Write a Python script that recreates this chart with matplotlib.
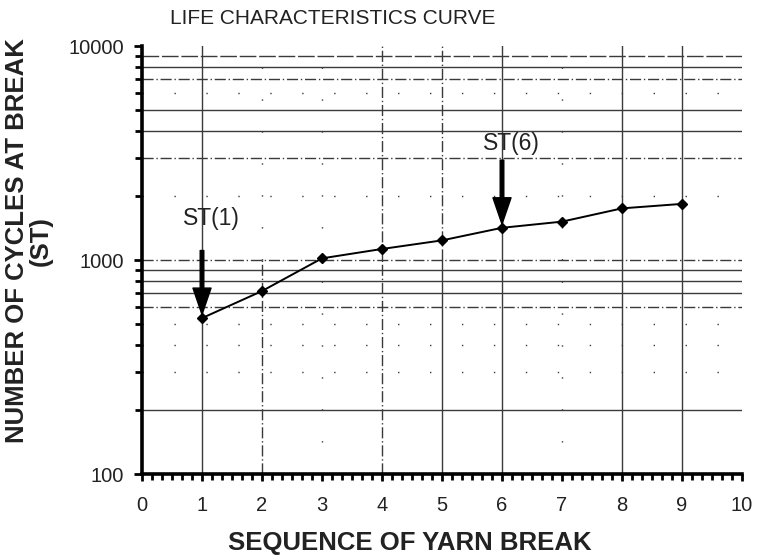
import numpy as np
import matplotlib
matplotlib.use("Agg")
import matplotlib.pyplot as plt
from matplotlib.ticker import FixedLocator, FixedFormatter, MultipleLocator, NullFormatter

plt.rcParams['font.family'] = ['Liberation Sans', 'DejaVu Sans']

# cycles to break for each yarn, in break order
break_seq = [1, 2, 3, 4, 5, 6, 7, 8, 9]
cycles = [535, 716, 1018, 1126, 1235, 1414, 1511, 1743, 1829]

y_ticks = [100, 1000, 10000]
y_tick_labels = ['100', '1000', '10000']
x_ticks = [0, 1, 2, 3, 4, 5, 6, 7, 8, 9, 10]

# marked breaks: (sequence, label)
marked = [(1, 'ST(1)'), (6, 'ST(6)')]

# grid line styles (photocopied chart paper: some lines solid, some broken)
SOLID = '-'
DASHDOT = (0, (8, 2, 1, 2))
DOTS = (0, (1, 22))
LONGDASH = (0, (12, 2))
hgrid = {
    200: SOLID, 300: DOTS, 400: DOTS, 500: DOTS, 600: DASHDOT,
    700: SOLID, 800: SOLID, 900: SOLID, 1000: DASHDOT,
    2000: DOTS, 3000: DASHDOT, 4000: SOLID, 5000: SOLID,
    6000: DOTS, 7000: DASHDOT, 8000: SOLID, 9000: LONGDASH,
}
# vertical lines: style below 1000 cycles, style above
vgrid = {1: (SOLID, SOLID), 2: (DASHDOT, DOTS), 3: (DOTS, DOTS),
         4: (DASHDOT, DASHDOT), 5: (SOLID, DASHDOT), 6: (SOLID, SOLID),
         7: (DOTS, DOTS), 8: (SOLID, SOLID), 9: (SOLID, SOLID)}

fig = plt.figure(figsize=(7.58, 5.58), dpi=100)
ax = fig.add_axes([142 / 758, 84 / 558, 600 / 758, 428 / 558])
ax.set_yscale('log')
ax.set_xlim(0, 10)
ax.set_ylim(100, 10000)

grid_kw = dict(color='#3a3a3a', lw=1.0, zorder=1)
for yv, ls in hgrid.items():
    ax.axhline(yv, ls=ls, **grid_kw)
for xv, (ls_lo, ls_hi) in vgrid.items():
    ax.plot([xv, xv], [100, 1000], ls=ls_lo, **grid_kw)
    ax.plot([xv, xv], [1000, 10000], ls=ls_hi, **grid_kw)

ax.plot(break_seq, cycles, color='black', lw=1.4, marker='D',
        markersize=5, zorder=3)

# label offsets above the arrow tail, in points
label_gap = {'ST(1)': 15, 'ST(6)': 4}
for seq, label in marked:
    val = cycles[break_seq.index(seq)]
    tail = val * 2.07
    ax.annotate('', xy=(seq, val * 1.04), xytext=(seq, tail),
                arrowprops=dict(facecolor='black', edgecolor='black',
                                width=2.6, headwidth=13, headlength=19,
                                shrink=0), zorder=4)
    ax.annotate(label, xy=(seq + 0.15, tail), xytext=(0, label_gap[label]),
                textcoords='offset points', ha='center', va='bottom',
                fontsize=16.5, color='#222222')

for side in ['top', 'right']:
    ax.spines[side].set_visible(False)
for side in ['left', 'bottom']:
    ax.spines[side].set_linewidth(2.6)
    ax.spines[side].set_color('black')

ax.yaxis.set_major_locator(FixedLocator(y_ticks))
ax.yaxis.set_major_formatter(FixedFormatter(y_tick_labels))
ax.yaxis.set_minor_locator(FixedLocator(list(hgrid.keys())))
ax.yaxis.set_minor_formatter(NullFormatter())
ax.set_xticks(x_ticks)
ax.xaxis.set_minor_locator(MultipleLocator(1 / 6))

ax.tick_params(axis='y', which='major', direction='out', length=6, width=2,
               pad=7, labelsize=14.5, colors='black', labelcolor='#222222')
ax.tick_params(axis='y', which='minor', direction='out', length=5, width=2)
ax.tick_params(axis='x', which='major', direction='out', length=5, width=2,
               pad=11, labelsize=14.5, labelcolor='#222222')
ax.tick_params(axis='x', which='minor', direction='out', length=4, width=2)

fig.text(170 / 758, 1 - 18 / 558, 'LIFE CHARACTERISTICS CURVE', ha='left',
         va='center', fontsize=15, color='#222222')
fig.text(410 / 758, 1 - 543 / 558, 'SEQUENCE OF YARN BREAK', ha='center',
         va='center', fontsize=18.5, fontweight='bold', color='#222222')
fig.text(29 / 758, 1 - 241 / 558, 'NUMBER OF CYCLES AT BREAK\n(ST)',
         ha='center', va='center', rotation=90, fontsize=18.5,
         fontweight='bold', color='#222222', multialignment='center',
         linespacing=1.0)

fig.savefig('out.png', dpi=100)
